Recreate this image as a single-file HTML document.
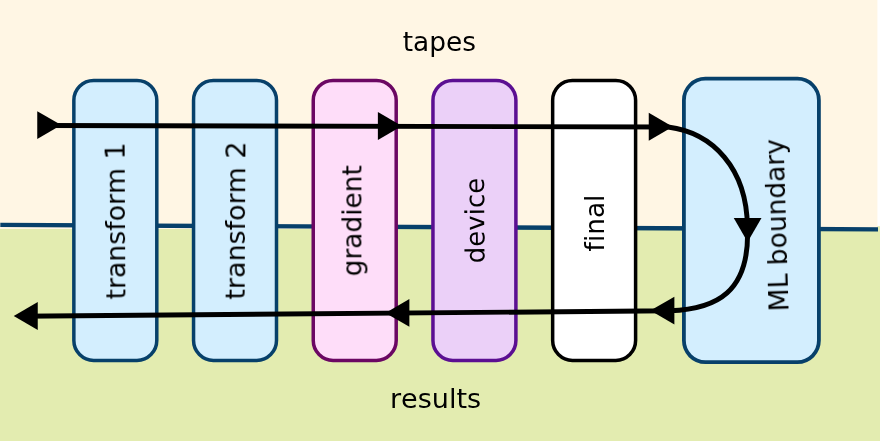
<!DOCTYPE html>
<html lang="en"><head><meta charset="utf-8"><title>tapes / results</title>
<style>html,body{margin:0;padding:0;background:#fff;overflow:hidden}svg{display:block}text{fill:#000;font-variant-ligatures:none;font-kerning:none}</style>
</head><body>
<svg width="880" height="441" viewBox="0 0 880 441">
<rect x="0" y="0" width="880" height="441" fill="#FFFFFF"/>
<rect x="0" y="226.2" width="880" height="214.8" fill="#E3ECB0"/>
<rect x="0" y="0" width="877.4" height="229.0" fill="#FFF6E4"/>
<line x1="0.3" y1="224.95" x2="878" y2="229.34" stroke="#07406A" stroke-width="4.3"/>
<rect x="73.85" y="80.4" width="82.95" height="280.0" rx="19.8" ry="19.8" fill="#D3EEFE" stroke="#07406A" stroke-width="3.5"/>
<rect x="193.55" y="80.4" width="82.95" height="280.0" rx="19.8" ry="19.8" fill="#D3EEFE" stroke="#07406A" stroke-width="3.5"/>
<rect x="313.25" y="80.4" width="82.95" height="280.0" rx="19.8" ry="19.8" fill="#FEDDF9" stroke="#6B0763" stroke-width="3.5"/>
<rect x="432.95" y="80.4" width="82.95" height="280.0" rx="19.8" ry="19.8" fill="#EBD0F8" stroke="#5B0F92" stroke-width="3.5"/>
<rect x="552.65" y="80.4" width="82.95" height="280.0" rx="19.8" ry="19.8" fill="#FFFFFF" stroke="#000000" stroke-width="3.5"/>
<rect x="683.9" y="78.7" width="135" height="283.4" rx="21.5" ry="21.5" fill="#D3EEFE" stroke="#07406A" stroke-width="3.8"/>
<path d="M 45,125.42 L 668,127.04 C 712.8,132.7 746.9,168.3 747.4,227 C 750.4,292.6 716.0,309.2 670,310.8 L 20,316.23" fill="none" stroke="#000" stroke-width="4.95" stroke-linejoin="round"/>
<polygon points="37.25,111.20 61.25,125.10 37.25,139.00" fill="#000"/>
<polygon points="377.90,112.10 401.90,126.00 377.90,139.90" fill="#000"/>
<polygon points="648.75,112.85 672.75,126.75 648.75,140.65" fill="#000"/>
<polygon points="733.75,217.9 761.5,217.9 747.6,241.9" fill="#000"/>
<polygon points="674.40,296.70 650.40,310.60 674.40,324.50" fill="#000"/>
<polygon points="409.40,299.00 385.40,312.90 409.40,326.80" fill="#000"/>
<polygon points="37.75,302.10 13.75,316.00 37.75,329.90" fill="#000"/>
<g opacity="0.999">
<text transform="translate(402.75,50.6) scale(1.0035,1)" font-size="26.3" font-family="DejaVu Sans, Liberation Sans, sans-serif">tapes</text>
<text transform="translate(389.93,407.75) scale(1.0294,1)" font-size="26.3" font-family="DejaVu Sans, Liberation Sans, sans-serif">results</text>
<text transform="translate(125.4,299.46) rotate(-90.3) scale(1.0169,1)" font-size="26.3" font-family="DejaVu Sans, Liberation Sans, sans-serif">transform 1</text>
<text transform="translate(244.6,299.67) rotate(-89.7) scale(1.0245,1)" font-size="26.3" font-family="DejaVu Sans, Liberation Sans, sans-serif">transform 2</text>
<text transform="translate(361.4,276.30) rotate(-90) scale(1.0028,1)" font-size="26.3" font-family="DejaVu Sans, Liberation Sans, sans-serif">gradient</text>
<text transform="translate(484.6,263.19) rotate(-90.4) scale(0.9904,1)" font-size="26.3" font-family="DejaVu Sans, Liberation Sans, sans-serif">device</text>
<text transform="translate(604.0,251.40) rotate(-90) scale(1.0028,1)" font-size="26.3" font-family="DejaVu Sans, Liberation Sans, sans-serif">final</text>
<text transform="translate(788.6,311.12) rotate(-91.7) scale(1.0087,1)" font-size="26.3" font-family="DejaVu Sans, Liberation Sans, sans-serif">ML boundary</text>
</g>
</svg>
</body></html>
